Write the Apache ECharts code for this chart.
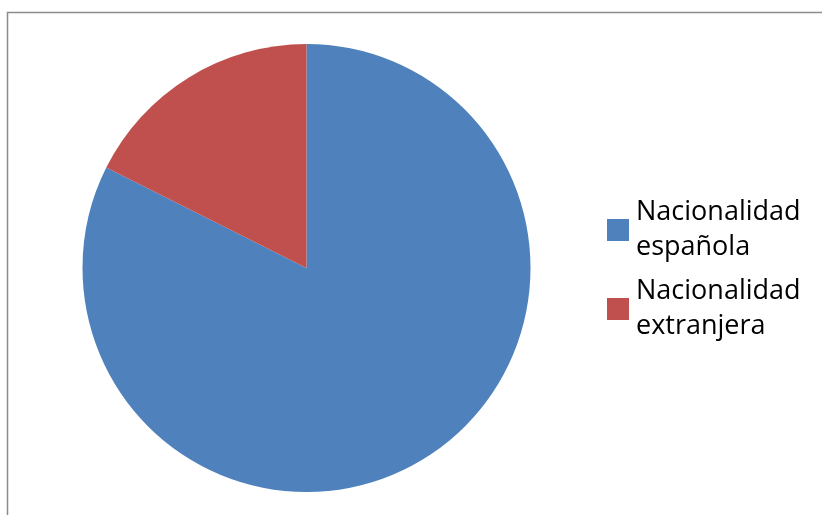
<!DOCTYPE html>
<html>
<head>
<meta charset="utf-8">
<script src="https://cdn.jsdelivr.net/npm/echarts@6/dist/echarts.min.js"></script>
<style>html,body{margin:0;padding:0;background:#fff;}#c{width:822px;height:515px;}</style>
</head>
<body>
<div id="c"></div>
<script>
const categories = ['Nacionalidad\nespañola', 'Nacionalidad\nextranjera'];
const values = [82.4, 17.6];
const colors = ['#4F81BD', '#C0504D'];

const chart = echarts.init(document.getElementById('c'), null, {renderer: 'canvas'});
chart.setOption({
  backgroundColor: '#fff',
  animation: false,
  graphic: [{
    type: 'rect',
    shape: {x: 7.5, y: 12.5, width: 830, height: 520},
    style: {fill: 'none', stroke: '#8c8c8c', lineWidth: 1.5},
    silent: true
  }],
  legend: {
    orient: 'vertical',
    left: 607,
    top: 195,
    padding: 0,
    itemWidth: 22,
    itemHeight: 22,
    itemGap: 9,
    itemStyle: {borderWidth: 0},
    icon: 'rect',
    textStyle: {fontFamily: 'Open Sans', fontSize: 27, lineHeight: 35, color: '#000', padding: [0,0,0,2]},
    data: categories
  },
  series: [{
    type: 'pie',
    center: [306.5, 268],
    radius: 224,
    startAngle: 90,
    clockwise: true,
    label: {show: false},
    labelLine: {show: false},
    itemStyle: {borderWidth: 0},
    data: categories.map((n, i) => ({name: n, value: values[i], itemStyle: {color: colors[i]}}))
  }]
});
</script>
</body>
</html>
